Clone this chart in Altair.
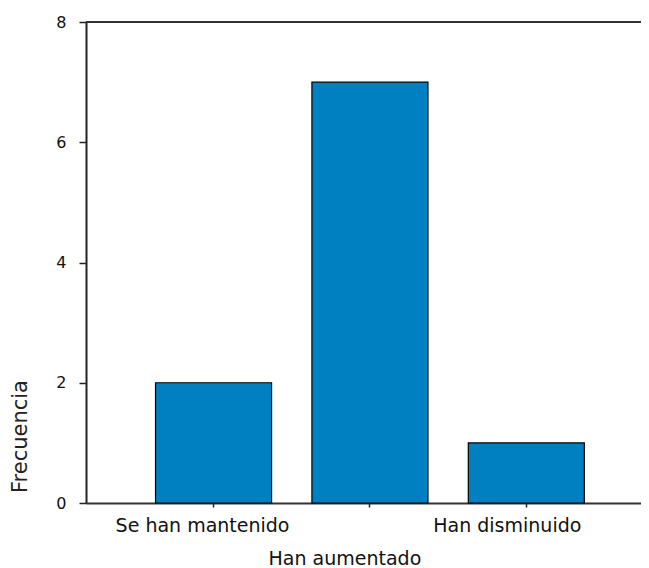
import altair as alt
import pandas as pd

categories = ["Se han mantenido", "Han aumentado", "Han disminuido"]
values = [2, 7, 1]
y_ticks = [0, 2, 4, 6, 8]

df = pd.DataFrame({"Respuesta": categories, "Frecuencia": values})

x_enc = alt.X(
    "Respuesta:N",
    sort=categories,
    title=None,
    scale=alt.Scale(paddingInner=0.258, paddingOuter=0.4035, align=0.551),
    axis=alt.Axis(
        labelAngle=0,
        labelFont="DejaVu Sans",
        labelFontSize=19,
        labelColor="#111111",
        labelPadding=9,
        labelLineHeight=33,
        labelBaseline="top",
        labelExpr="datum.label == 'Han aumentado' ? ['', datum.label] : datum.label",
        labelOffset={
            "condition": [
                {"test": "datum.value == 'Se han mantenido'", "value": -11},
                {"test": "datum.value == 'Han aumentado'", "value": -25},
            ],
            "value": -19,
        },
        tickSize=4,
        tickColor="#222222",
        tickWidth=1.5,
        domainColor="#333333",
        domainWidth=2,
        grid=False,
    ),
)

y_enc = alt.Y(
    "Frecuencia:Q",
    scale=alt.Scale(domain=[0, 8], nice=False),
    axis=alt.Axis(
        values=y_ticks,
        format="d",
        title="Frecuencia",
        titleFont="DejaVu Sans",
        titleFontSize=21,
        titleFontWeight="normal",
        titleColor="#222222",
        titleAngle=-90,
        titleX=-66,
        titleY=414,
        titleAlign="center",
        titleBaseline="middle",
        labelFont="DejaVu Sans",
        labelFontSize=16,
        labelColor="#111111",
        labelPadding=13,
        tickSize=7,
        tickColor="#222222",
        tickWidth=1.5,
        domainColor="#222222",
        domainWidth=2,
        grid=False,
    ),
)

bars = alt.Chart(df).mark_bar(
    color="#0080C0", stroke="#000000", strokeWidth=1.2
).encode(x=x_enc, y=y_enc)

top_line = alt.Chart(alt.Data(values=[{"v": 8}])).mark_rule(
    color="#333333", strokeWidth=2
).encode(y=alt.datum(8))

chart = (
    alt.layer(bars, top_line)
    .properties(
        width=555,
        height=481,
        autosize=alt.AutoSizeParams(type="none"),
        padding={"left": 78, "top": 14, "right": 0, "bottom": 76},
    )
    .configure_view(stroke=None)
    .configure(background="#ffffff")
)

chart.save("out.html", embed_options={"renderer": "svg", "actions": False})
